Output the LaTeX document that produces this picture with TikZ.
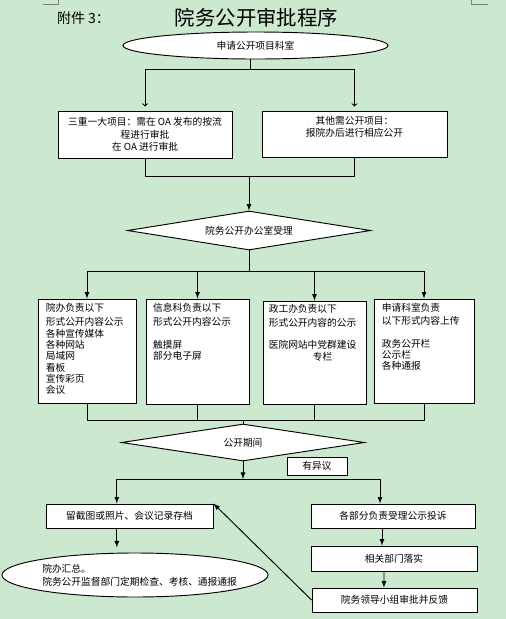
\documentclass[tikz,border=0pt]{standalone}
\usepackage{fontspec}
\setmainfont{Noto Sans CJK SC}
\usetikzlibrary{arrows, calc, shapes.geometric}
\definecolor{pagegreen}{RGB}{204,232,207}

\tikzset{
	box/.style={draw, fill=white, line width=0.7pt, inner sep=0pt, align=center, font=\fontsize{7.3}{9.4}\selectfont},
	sz/.style 2 args={minimum width=#1*0.75pt, minimum height=#2*0.75pt},
	boxtext/.style={anchor=north west, inner sep=0pt, align=left, font=\fontsize{7.3}{8.5}\selectfont},
	link/.style={line width=0.7pt},
	arr/.style={link, -latex},
}

\begin{document}
\begin{tikzpicture}[x=0.75pt, y=-0.75pt]
	\fill[pagegreen] (0,0) rectangle (506,619);
	\useasboundingbox (0,0) rectangle (506,619);
	\draw[gray, line width=0.4pt] (43,4) -- (58,4) -- (58,0);
	\draw[gray, line width=0.4pt] (471,0) -- (471,4) -- (488,4);
	\path (83.5,18.5) node [font=\fontsize{10.5}{12}\selectfont] (annex) {附件 3：};
	\path (256.5,18) node [font=\fontsize{15.3}{18}\selectfont] (title) {院务公开审批程序};

	\node[box, ellipse, sz={265}{27}] (apply) at (255.5,45.5) {申请公开项目科室};
	\node[box, sz={174}{47}] (major) at (145,134.5) {三重一大项目：需在 OA 发布的按流\\程进行审批\\在 OA 进行审批};
	\node[box, sz={185}{46}] (other) at (354.5,134) {};
	\node[boxtext, anchor=north, align=center, font=\fontsize{7.3}{9}\selectfont] (othert) at ([yshift=-4.5pt]other.north) {其他需公开项目：\\报院办后进行相应公开};
	\coordinate (split1) at (250,69);
	\draw[link] (split1 |- apply.south) -- (split1);
	\draw[link, -to, shorten >=3pt] (split1) -| (major.north);
	\draw[link, -to, shorten >=3pt] (split1) -| (other.north);

	\node[box, diamond, aspect=6.2, sz={243}{39}] (office) at (249,230.5) {院务公开办公室受理};
	\coordinate (join1) at (249,176);
	\draw[link] (major.south) |- (join1);
	\draw[link] (other.south) |- (join1);
	\draw[arr] (join1) -- (office.north);

	\node[box, sz={98}{104}] (yb) at (87,351) {};
	\node[box, sz={103}{105}] (xxk) at (197.5,351.5) {};
	\node[box, sz={103}{103}] (zgb) at (314.5,352.5) {};
	\node[box, sz={100}{104}] (sqks) at (424,351) {};
	\node[boxtext] (ybt) at ([xshift=6pt, yshift=-3pt]yb.north west) {院办负责以下\\[2.5pt]形式公开内容公示\\各种宣传媒体\\各种网站\\局域网\\看板\\宣传彩页\\会议};
	\node[boxtext] (xxkt) at ([xshift=5.5pt, yshift=-3pt]xxk.north west) {信息科负责以下\\[2.5pt]形式公开内容公示\\\mbox{}\\触摸屏\\部分电子屏};
	\node[boxtext] (zgbt) at ([xshift=4.5pt, yshift=-3pt]zgb.north west) {政工办负责以下\\[1.5pt]形式公开内容的公示\\\mbox{}\\医院网站中党群建设\\\hspace*{33pt}专栏};
	\node[boxtext] (sqkst) at ([xshift=6pt, yshift=-3pt]sqks.north west) {申请科室负责\\[1.5pt]以下形式内容上传\\\mbox{}\\政务公开栏\\公示栏\\各种通报};
	\coordinate (split2) at (249,271);
	\draw[link] (office.south) -- (split2);
	\draw[arr] (split2) -| (yb.north);
	\draw[arr] (split2) -| (xxk.north);
	\draw[arr] (split2) -| (zgb.north);
	\draw[arr] (split2) -| (sqks.north);

	\node[box, diamond, aspect=6.5, sz={243}{37}] (period) at (243,442.5) {公开期间};
	\coordinate (join2) at (243,420);
	\draw[link] (yb.south) |- (join2);
	\draw[link] (xxk.south) |- (join2);
	\draw[link] (zgb.south) |- (join2);
	\draw[link] (sqks.south) |- (join2);
	\draw[link] (join2) -- (period.north);
	\node[box, sz={60}{18}] (objection) at (317,466) {有异议};

	\node[box, sz={167}{24}] (archive) at (129.5,516) {留截图或照片、会议记录存档};
	\node[box, sz={164}{24}] (complaint) at (393,516) {各部分负责受理公示投诉};
	\coordinate (split3) at (243,479);
	\draw[arr] (period.south) -- (split3);
	\draw[arr] (split3) -| ([xshift=-9.5pt]archive.north);
	\draw[arr] (split3) -| ([xshift=-9.75pt]complaint.north);

	\node[box, ellipse, sz={266}{44}] (summary) at (135,575) {};
	\node[boxtext, anchor=west, font=\fontsize{7.3}{9.75}\selectfont] (summaryt) at (42,575.5) {院办汇总。\\院务公开监督部门定期检查、考核、通报通报};
	\draw[arr] ([xshift=-9.5pt]archive.south) -- ++(0,19);

	\node[box, sz={166}{25}] (implement) at (394,558.5) {相关部门落实};
	\node[box, sz={165}{24}] (leader) at (394.5,600) {院务领导小组审批并反馈};
	\draw[arr] ([xshift=-8.25pt]complaint.south) -- ([xshift=-9pt]implement.north);
	\draw[arr] ([xshift=-7.5pt]implement.south) -- ([xshift=-7.9pt]leader.north);
	\draw[arr] (leader.west) -- (archive.north east);
\end{tikzpicture}
\end{document}
